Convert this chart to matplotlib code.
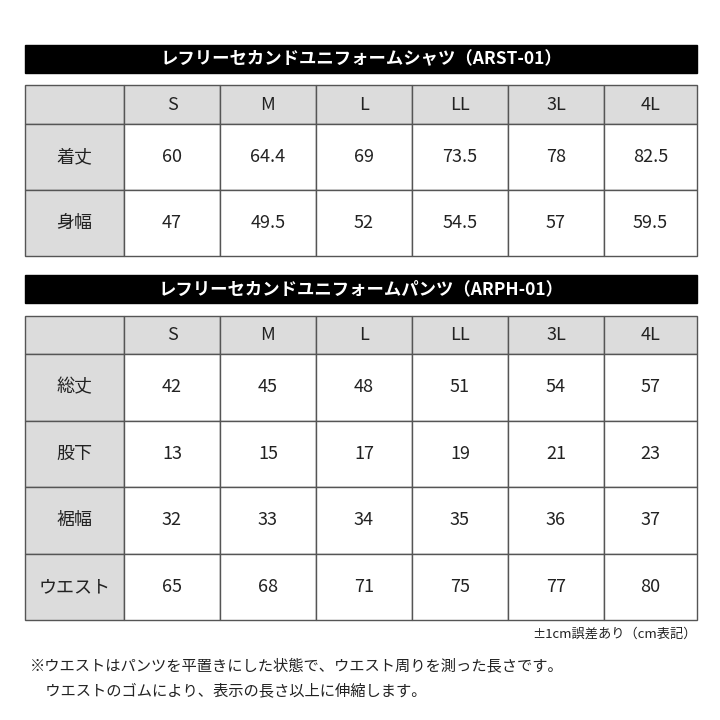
import matplotlib
matplotlib.use("Agg")
import matplotlib.pyplot as plt
from matplotlib.patches import Rectangle

plt.rcParams["font.family"] = "Noto Sans CJK JP"

sizes = ["S", "M", "L", "LL", "3L", "4L"]
title1 = "レフリーセカンドユニフォームシャツ（ARST-01）"
rows1 = ["着丈", "身幅"]
vals1 = [["60", "64.4", "69", "73.5", "78", "82.5"],
         ["47", "49.5", "52", "54.5", "57", "59.5"]]
title2 = "レフリーセカンドユニフォームパンツ（ARPH-01）"
rows2 = ["総丈", "股下", "裾幅", "ウエスト"]
vals2 = [["42", "45", "48", "51", "54", "57"],
         ["13", "15", "17", "19", "21", "23"],
         ["32", "33", "34", "35", "36", "37"],
         ["65", "68", "71", "75", "77", "80"]]
note_right = "±1cm誤差あり（cm表記）"
notes = ["※ウエストはパンツを平置きにした状態で、ウエスト周りを測った長さです。",
         "　ウエストのゴムにより、表示の長さ以上に伸縮します。"]

fig = plt.figure(figsize=(7.2, 7.2), dpi=100)
ax = fig.add_axes([0, 0, 1, 1])
ax.set_xlim(0, 720); ax.set_ylim(720, 0); ax.axis("off")

xs = [25, 124, 220, 316, 412, 508, 604, 697]
gray = "#dcdcdc"
lc = "#555555"

def table(title, ybar, ytop, hh, rh, rows, vals):
    ax.add_patch(Rectangle((25, ybar), 672, 28, color="black"))
    ax.text(361, ybar + 14, title, color="white", fontsize=12.5, fontweight="bold",
            ha="center", va="center")
    heights = [hh] + [rh] * len(rows)
    y = ytop
    for r, h in enumerate(heights):
        for c in range(7):
            x0, x1 = xs[c], xs[c + 1]
            fc = gray if (r == 0 or c == 0) else "white"
            ax.add_patch(Rectangle((x0, y), x1 - x0, h, facecolor=fc, edgecolor=lc, lw=1))
            if r == 0 and c > 0:
                t = sizes[c - 1]
            elif r > 0 and c == 0:
                t = rows[r - 1]
            elif r > 0:
                t = vals[r - 1][c - 1]
            else:
                t = ""
            ax.text((x0 + x1) / 2, y + h / 2, t, fontsize=13, ha="center", va="center",
                    color="#222222")
        y += h

table(title1, 45, 85, 39, 66, rows1, vals1)
table(title2, 275, 316, 38, 66.5, rows2, vals2)

ax.text(697, 634, note_right, fontsize=9.5, ha="right", va="center", color="#222222")
ax.text(30, 666, notes[0], fontsize=11, ha="left", va="center", color="#222222")
ax.text(30, 691, notes[1], fontsize=11, ha="left", va="center", color="#222222")

fig.savefig("out.png", dpi=100, facecolor="white")
